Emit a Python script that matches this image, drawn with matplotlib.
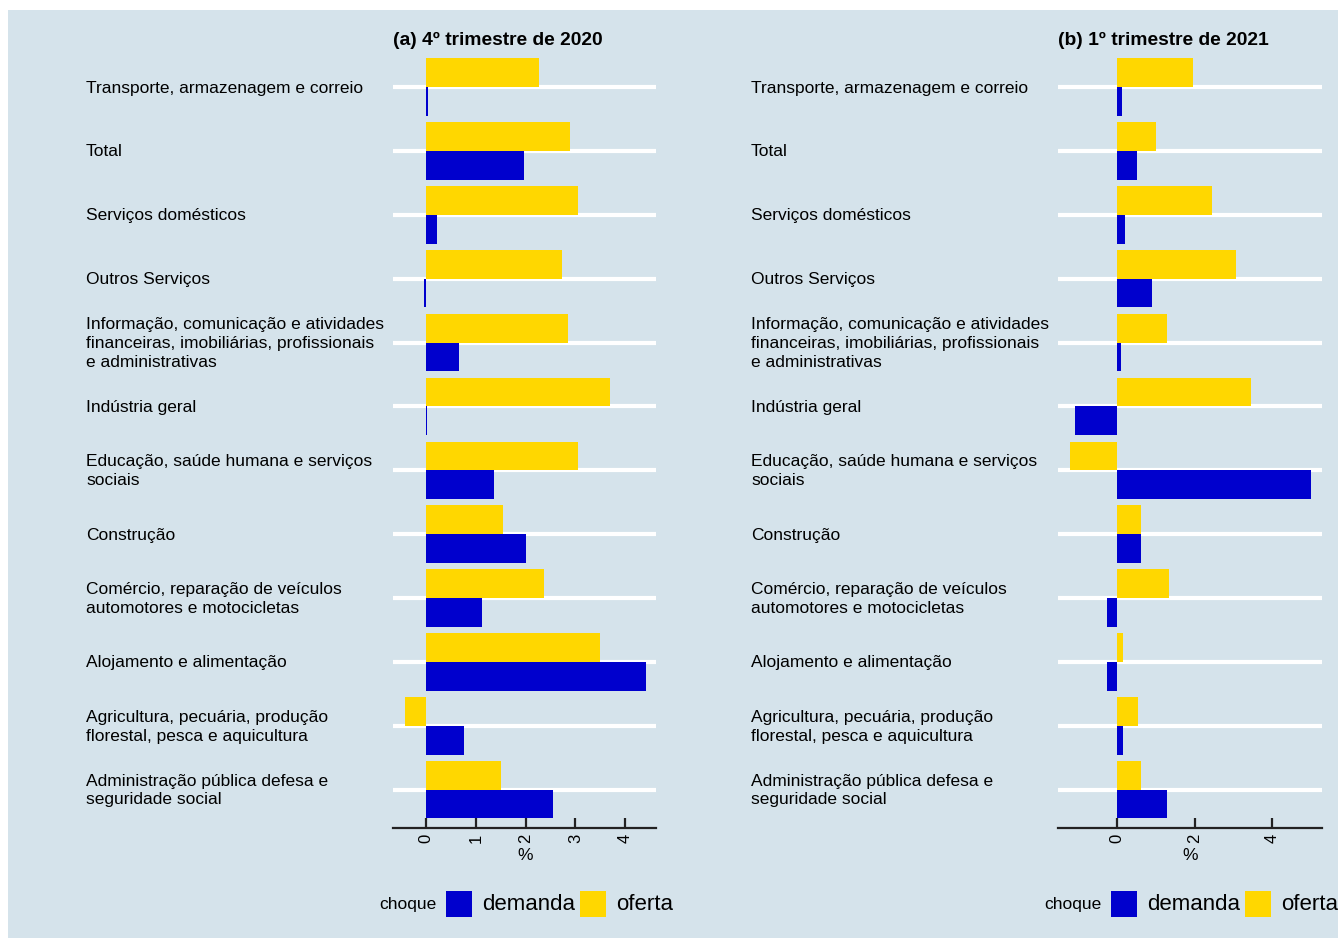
import matplotlib
matplotlib.use("Agg")
import matplotlib.pyplot as plt
from matplotlib.patches import Rectangle
from matplotlib.transforms import blended_transform_factory, offset_copy
import numpy as np

plt.rcParams['font.family'] = ['Liberation Sans', 'DejaVu Sans']

# categories, top to bottom
categories = [
    "Transporte, armazenagem e correio",
    "Total",
    "Serviços domésticos",
    "Outros Serviços",
    "Informação, comunicação e atividades\nfinanceiras, imobiliárias, profissionais\ne administrativas",
    "Indústria geral",
    "Educação, saúde humana e serviços\nsociais",
    "Construção",
    "Comércio, reparação de veículos\nautomotores e motocicletas",
    "Alojamento e alimentação",
    "Agricultura, pecuária, produção\nflorestal, pesca e aquicultura",
    "Administração pública defesa e\nseguridade social",
]

# (a) 4º trimestre de 2020
oferta_a = [2.27, 2.90, 3.06, 2.74, 2.86, 3.70, 3.06, 1.55, 2.37, 3.50, -0.42, 1.51]
demanda_a = [0.04, 1.97, 0.22, -0.04, 0.66, 0.02, 1.37, 2.01, 1.13, 4.41, 0.76, 2.56]

# (b) 1º trimestre de 2021
oferta_b = [1.96, 1.00, 2.45, 3.05, 1.27, 3.44, -1.21, 0.62, 1.34, 0.15, 0.54, 0.62]
demanda_b = [0.13, 0.52, 0.20, 0.90, 0.10, -1.09, 4.99, 0.62, -0.26, -0.26, 0.15, 1.27]

titles = ["(a) 4º trimestre de 2020", "(b) 1º trimestre de 2021"]
xticks_a = [0, 1, 2, 3, 4]
xticks_b = [0, 2, 4]

BG = "#d5e3eb"
BLUE = "#0000CD"
GOLD = "#FFD700"

W, H = 1338, 938
fig = plt.figure(figsize=(W / 100, H / 100), dpi=100)
fig.patch.set_facecolor("white")
fig.patches.append(Rectangle((8 / W, 0), 1 - 8 / W, 1 - 10 / H,
                             transform=fig.transFigure, facecolor=BG,
                             edgecolor="none", zorder=-10))

panels = [
    dict(left=393.3, right=656, xlim=(-0.658, 4.62), ticks=xticks_a,
         of=oferta_a, de=demanda_a, labx=86, legx=379),
    dict(left=1058.3, right=1321.7, xlim=(-1.52, 5.27), ticks=xticks_b,
         of=oferta_b, de=demanda_b, labx=751, legx=1044),
]

n = len(categories)
ypos = np.arange(n, 0, -1)  # top category gets highest y
h = 0.45
top_px, bot_px = 48.7, 828

for i, p in enumerate(panels):
    ax = fig.add_axes([p["left"] / W, 1 - bot_px / H,
                       (p["right"] - p["left"]) / W, (bot_px - top_px) / H])
    ax.set_facecolor("none")
    ax.barh(ypos + h / 2, p["of"], height=h, color=GOLD, zorder=3)
    ax.barh(ypos - h / 2, p["de"], height=h, color=BLUE, zorder=3)
    ax.set_xlim(*p["xlim"])
    ax.set_ylim(0.4, n + 0.6)
    ax.set_yticks(ypos)
    ax.set_yticklabels([])
    ax.tick_params(axis="y", length=0)
    ax.grid(axis="y", color="white", linewidth=3, zorder=1)
    ax.set_axisbelow(True)
    for s in ["left", "right", "top"]:
        ax.spines[s].set_visible(False)
    ax.spines["bottom"].set_color("#222222")
    ax.spines["bottom"].set_linewidth(1.6)
    ax.set_xticks(p["ticks"])
    ax.set_xticklabels([str(t) for t in p["ticks"]], rotation=90, fontsize=12,
                       va="top")
    ax.tick_params(axis="x", direction="in", length=7, width=1.6,
                   color="#222222", pad=4)
    ax.set_xlabel("%", fontsize=12.5, labelpad=4)
    ax.set_title(titles[i], loc="left", fontweight="bold", fontsize=13.9, pad=1)

    tr = blended_transform_factory(fig.transFigure, ax.transData)
    tr = offset_copy(tr, fig=fig, x=0, y=-1, units="dots")
    for y, lab in zip(ypos, categories):
        ax.text(p["labx"] / W, y, lab, transform=tr, ha="left", va="center",
                fontsize=12.5, linespacing=1.3, color="black")

    # legend
    lx = p["legx"]
    yc = 1 - 904 / H
    fig.text(lx / W, yc, "choque", ha="left", va="center", fontsize=12.5)
    fig.patches.append(Rectangle(((lx + 67) / W, 1 - 917 / H), 26 / W, 26 / H,
                                 transform=fig.transFigure, facecolor=BLUE,
                                 edgecolor="none"))
    fig.text((lx + 103) / W, yc, "demanda", ha="left", va="center", fontsize=16)
    fig.patches.append(Rectangle(((lx + 201) / W, 1 - 917 / H), 26 / W, 26 / H,
                                 transform=fig.transFigure, facecolor=GOLD,
                                 edgecolor="none"))
    fig.text((lx + 237) / W, yc, "oferta", ha="left", va="center", fontsize=16)

fig.savefig("out.png", dpi=100, facecolor=fig.get_facecolor())
